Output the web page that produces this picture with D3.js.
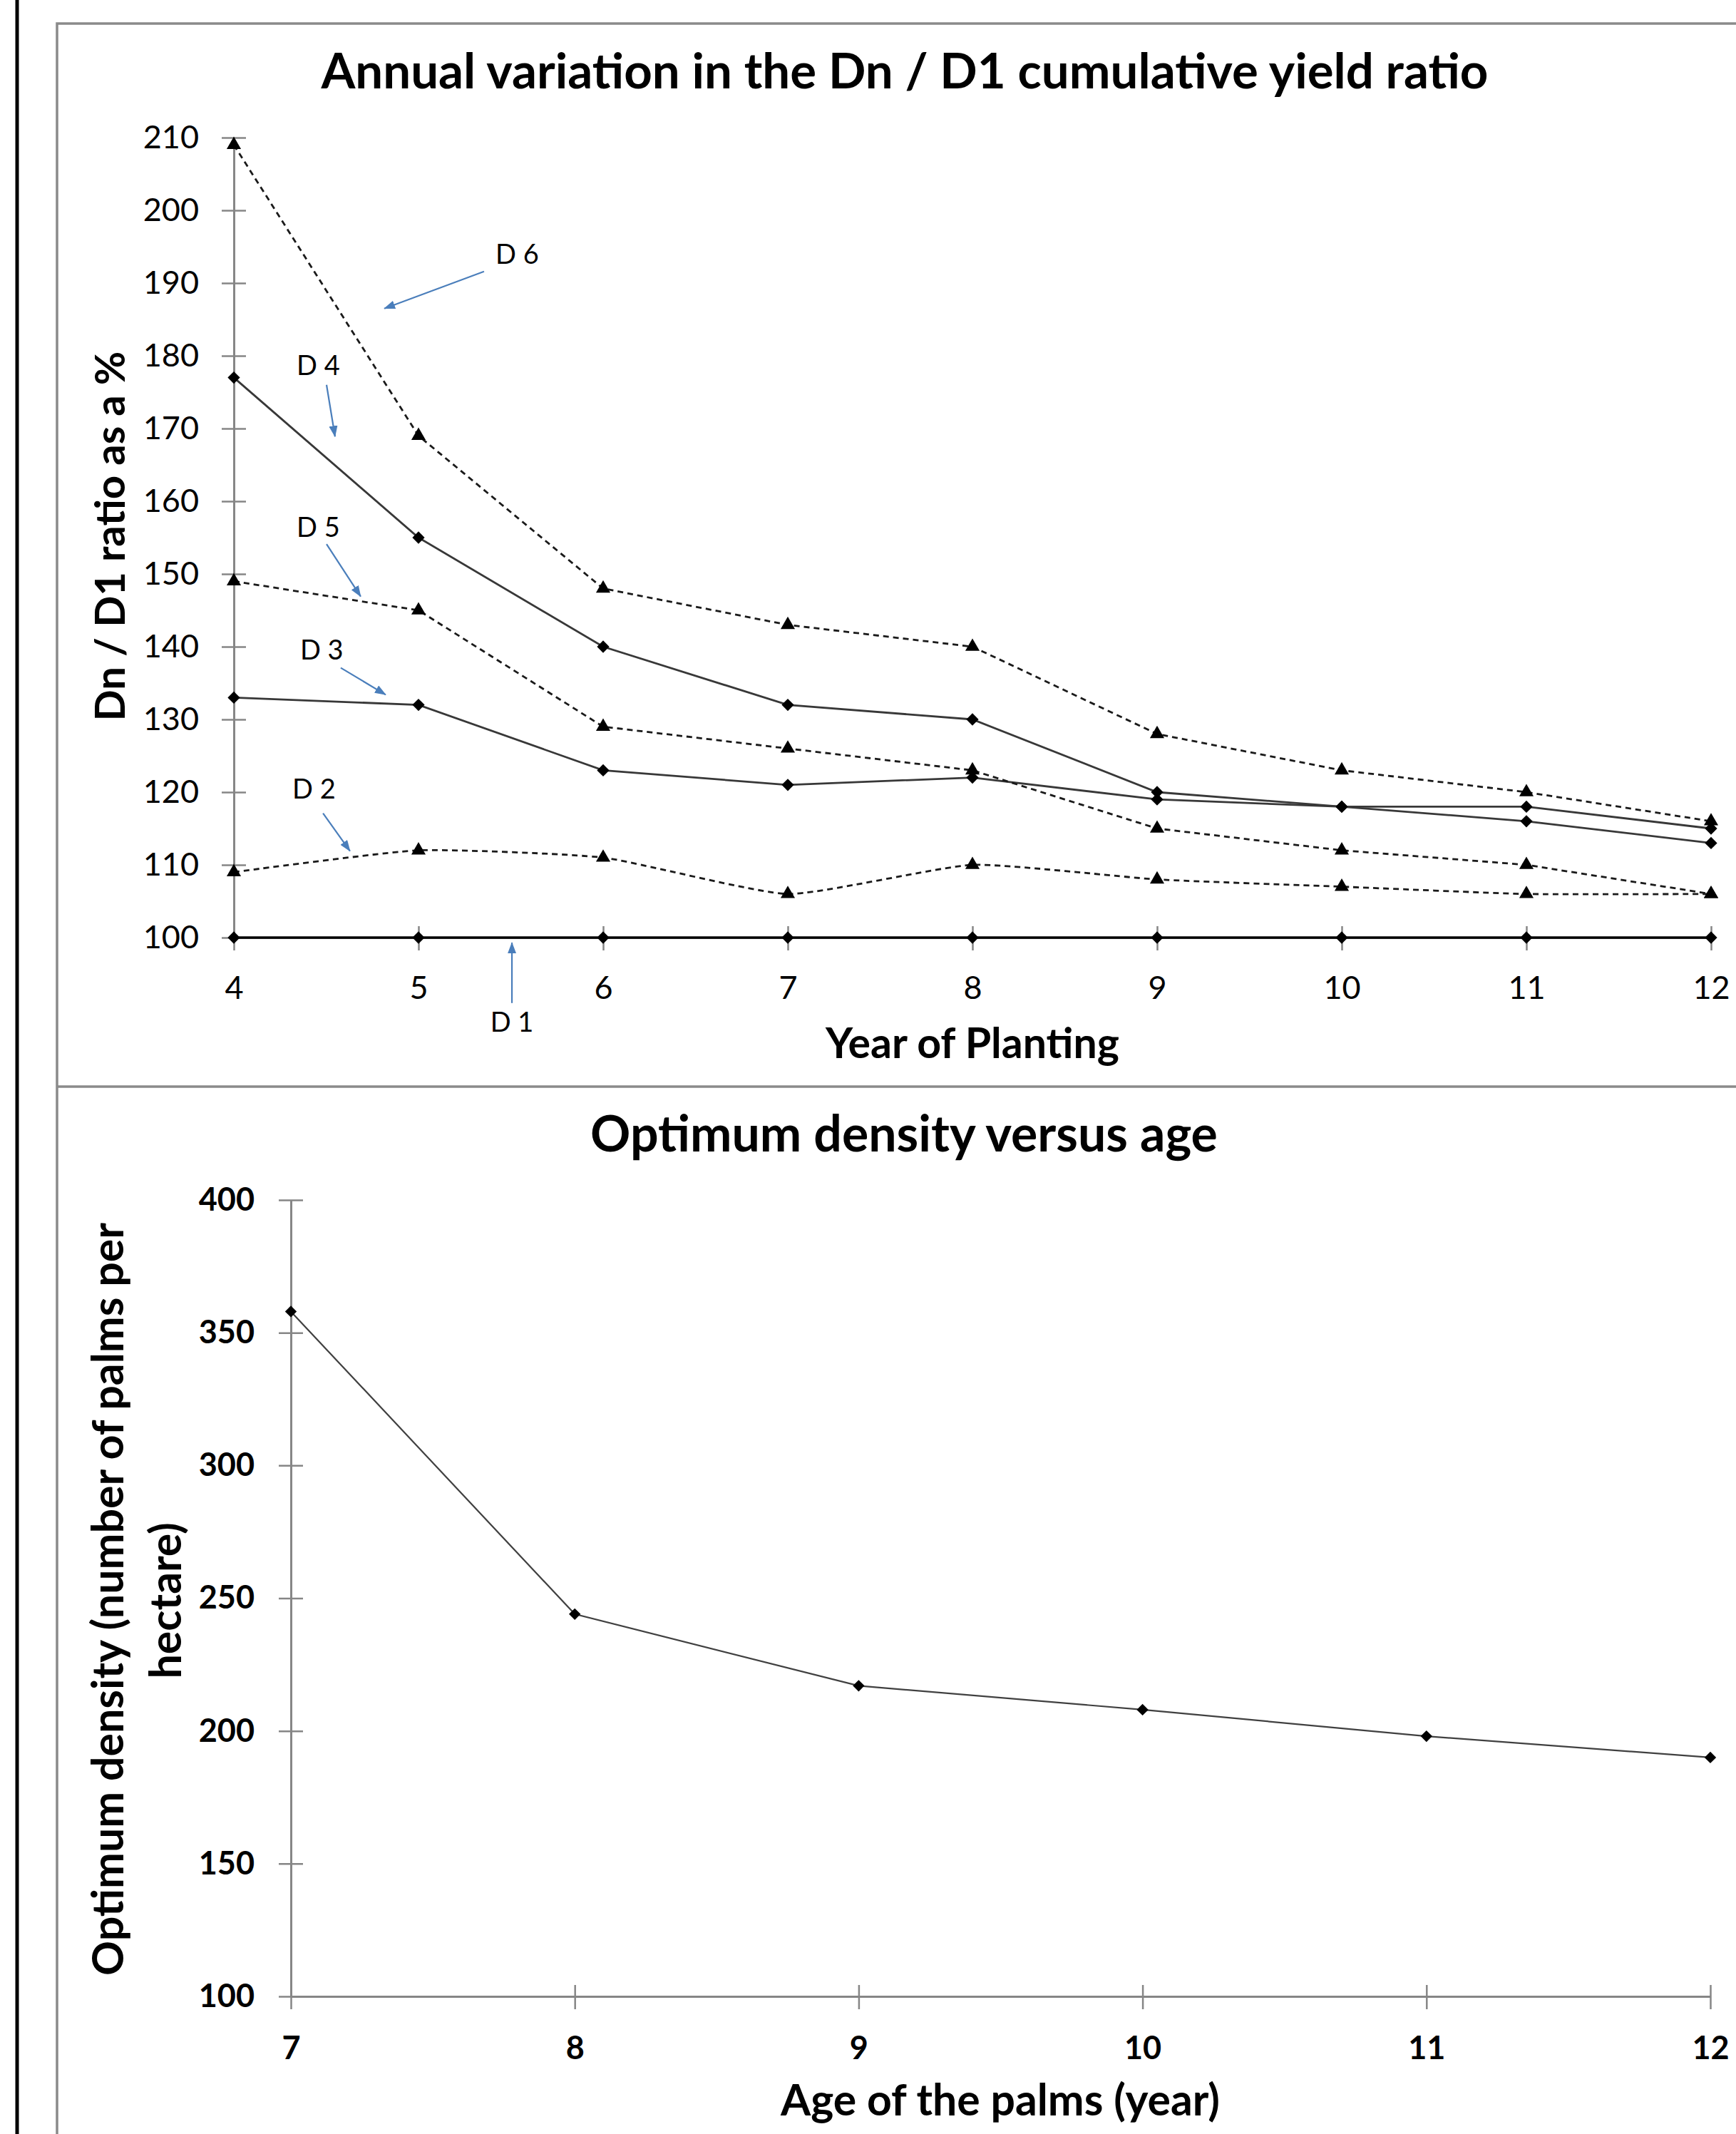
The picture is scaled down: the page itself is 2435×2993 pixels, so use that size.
<!DOCTYPE html>
<html>
<head>
<meta charset="utf-8">
<script src="https://d3js.org/d3.v7.min.js"></script>
<style>
  body { margin: 0; background: #fff; }
  svg { display: block; }
  text { font-family: Lato, "Open Sans", sans-serif; fill: #000; }
</style>
</head>
<body>
<svg id="chart" width="2435" height="2993"></svg>
<script>
// top chart: Dn / D1 ratio (%) by year of planting
var years = [4, 5, 6, 7, 8, 9, 10, 11, 12];
var serD1 = [100, 100, 100, 100, 100, 100, 100, 100, 100];
var serD2 = [109, 112, 111, 106, 110, 108, 107, 106, 106];
var serD3 = [133, 132, 123, 121, 122, 119, 118, 116, 113];
var serD4 = [177, 155, 140, 132, 130, 120, 118, 118, 115];
var serD5 = [149, 145, 129, 126, 123, 115, 112, 110, 106];
var serD6 = [209, 169, 148, 143, 140, 128, 123, 120, 116];
var ratioTicks = [100, 110, 120, 130, 140, 150, 160, 170, 180, 190, 200, 210];

// bottom chart: optimum density by age
var ages = [7, 8, 9, 10, 11, 12];
var density = [358, 244, 217, 208, 198, 190];
var densityTicks = [100, 150, 200, 250, 300, 350, 400];

// series labels with arrows, in data units [labelX, labelY, fromX, fromY, toX, toY]
var seriesNames = ["D 6", "D 4", "D 5", "D 3", "D 2", "D 1"];
var labelSpots = [
  [5.417, 192.6, 5.355, 191.6, 4.815, 186.5],
  [4.340, 177.4, 4.502, 176.0, 4.548, 168.9],
  [4.340, 155.1, 4.502, 154.1, 4.687, 146.9],
  [4.359, 138.2, 4.579, 137.1, 4.822, 133.4],
  [4.317, 119.1, 4.483, 117.1, 4.629, 111.9],
  [5.506, 87.1, 5.506, 91.0, 5.506, 99.3]
];

var svg = d3.select("#chart");
var AXIS = "#868686", BLUE = "#4a7ebb";

// make a text element take a given width
function fit(t, w) {
  var fs = parseFloat(t.attr("font-size"));
  var len = t.node().getComputedTextLength();
  t.attr("font-size", fs * w / len);
  return t;
}

// frame: black rule on the left, grey panel borders
svg.append("line").attr("x1", 24).attr("x2", 24).attr("y1", 0).attr("y2", 2993)
  .attr("stroke", "#000").attr("stroke-width", 5);
svg.append("path").attr("d", "M2435,33H80V2993M80,1524H2435")
  .attr("fill", "none").attr("stroke", "#8a8a8a").attr("stroke-width", 3.5);

svg.append("defs").append("marker")
  .attr("id", "arr").attr("markerUnits", "userSpaceOnUse")
  .attr("viewBox", "0 0 16 12").attr("refX", 15).attr("refY", 6)
  .attr("markerWidth", 16).attr("markerHeight", 12).attr("orient", "auto")
  .append("path").attr("d", "M0,0L16,6L0,12Z").attr("fill", BLUE);

// cross ticks like in excel
function crossTicks(g, vertical) {
  g.select(".domain").attr("stroke", AXIS).attr("stroke-width", 3);
  g.selectAll(".tick line").attr("stroke", AXIS).attr("stroke-width", 2.5)
    .each(function() {
      if (vertical) d3.select(this).attr("x1", -17).attr("x2", 17);
      else d3.select(this).attr("y1", -16).attr("y2", 18);
    });
}

// ---------- top chart ----------
var x1 = d3.scaleLinear().domain([4, 12]).range([328, 2400]);
var y1 = d3.scaleLinear().domain([100, 210]).range([1315, 193]);

var gy1 = svg.append("g").attr("transform", "translate(" + x1(4) + ",0)")
  .call(d3.axisLeft(y1).tickValues(ratioTicks).tickSize(17).tickSizeOuter(0).tickPadding(32));
crossTicks(gy1, true);
gy1.selectAll(".tick text").attr("font-size", 45).attr("font-family", "Lato").attr("fill", "#000");

var gx1 = svg.append("g").attr("transform", "translate(0," + y1(100) + ")")
  .call(d3.axisBottom(x1).tickValues(years).tickSize(17).tickSizeOuter(0).tickFormat(d3.format("d")));
crossTicks(gx1, false);
gx1.selectAll(".tick text").attr("font-size", 45).attr("font-family", "Lato")
  .attr("fill", "#000").attr("y", 86).attr("dy", 0);

var topSeries = [
  { v: serD1, dash: false, sym: d3.symbolDiamond2, w: 3.5, col: "#000" },
  { v: serD2, dash: true, sym: d3.symbolTriangle, smooth: true },
  { v: serD3, dash: false, sym: d3.symbolDiamond2 },
  { v: serD4, dash: false, sym: d3.symbolDiamond2 },
  { v: serD5, dash: true, sym: d3.symbolTriangle },
  { v: serD6, dash: true, sym: d3.symbolTriangle }
];

topSeries.forEach(function(s) {
  var pts = years.map(function(yr, i) { return [yr, s.v[i]]; });
  var line = d3.line().x(function(d) { return x1(d[0]); }).y(function(d) { return y1(d[1]); });
  if (s.smooth) line.curve(d3.curveCardinal.tension(0.5));
  svg.append("path").attr("d", line(pts)).attr("fill", "none")
    .attr("stroke", s.col || (s.dash ? "#1a1a1a" : "#383838"))
    .attr("stroke-width", s.w || 2.8)
    .attr("stroke-dasharray", s.dash ? "8,6" : null);
  svg.selectAll(null).data(pts).enter().append("path")
    .attr("transform", function(d) { return "translate(" + x1(d[0]) + "," + y1(d[1]) + ")"; })
    .attr("d", d3.symbol().type(s.sym).size(s.sym === d3.symbolTriangle ? 175 : 190))
    .attr("fill", "#000");
});

seriesNames.forEach(function(n, i) {
  var p = labelSpots[i];
  svg.append("text").attr("x", x1(p[0])).attr("y", y1(p[1]))
    .attr("font-size", 38).attr("text-anchor", n == "D 1" ? "middle" : "start").text(n);
  svg.append("line").attr("x1", x1(p[2])).attr("y1", y1(p[3]))
    .attr("x2", x1(p[4])).attr("y2", y1(p[5]))
    .attr("stroke", BLUE).attr("stroke-width", 2.2).attr("marker-end", "url(#arr)");
});

fit(svg.append("text").attr("x", 1269).attr("y", 124).attr("text-anchor", "middle")
  .attr("font-size", 64).attr("font-weight", "bold")
  .text("Annual variation in the Dn / D1 cumulative yield ratio"), 1637);
fit(svg.append("text").attr("transform", "translate(175,752) rotate(-90)").attr("text-anchor", "middle")
  .attr("font-size", 56).attr("font-weight", "bold").text("Dn / D1 ratio as a %"), 519);
fit(svg.append("text").attr("x", 1364).attr("y", 1484).attr("text-anchor", "middle")
  .attr("font-size", 54).attr("font-weight", "bold").text("Year of Planting"), 412);

// ---------- bottom chart ----------
var x2 = d3.scaleLinear().domain([7, 12]).range([408, 2399]);
var y2 = d3.scaleLinear().domain([100, 400]).range([2800, 1683]);

var gy2 = svg.append("g").attr("transform", "translate(" + x2(7) + ",0)")
  .call(d3.axisLeft(y2).tickValues(densityTicks).tickSize(17).tickSizeOuter(0).tickPadding(34));
crossTicks(gy2, true);
gy2.selectAll(".tick text").attr("font-size", 45).attr("font-weight", "bold")
  .attr("font-family", "Lato").attr("fill", "#000");

var gx2 = svg.append("g").attr("transform", "translate(0," + y2(100) + ")")
  .call(d3.axisBottom(x2).tickValues(ages).tickSize(17).tickSizeOuter(0).tickFormat(d3.format("d")));
crossTicks(gx2, false);
gx2.selectAll(".tick text").attr("font-size", 45).attr("font-weight", "bold")
  .attr("font-family", "Lato").attr("fill", "#000").attr("y", 88).attr("dy", 0);

var densPts = ages.map(function(a, i) { return [a, density[i]]; });
svg.append("path")
  .attr("d", d3.line().x(function(d) { return x2(d[0]); }).y(function(d) { return y2(d[1]); })(densPts))
  .attr("fill", "none").attr("stroke", "#404040").attr("stroke-width", 2.2);
svg.selectAll(null).data(densPts).enter().append("path")
  .attr("transform", function(d) { return "translate(" + x2(d[0]) + "," + y2(d[1]) + ")"; })
  .attr("d", d3.symbol().type(d3.symbolDiamond2).size(170))
  .attr("fill", "#000");

fit(svg.append("text").attr("x", 1268).attr("y", 1615).attr("text-anchor", "middle")
  .attr("font-size", 58).attr("font-weight", "bold").text("Optimum density versus age"), 880);
var yt = fit(svg.append("text").attr("transform", "translate(173,2243) rotate(-90)").attr("text-anchor", "middle")
  .attr("font-size", 56).attr("font-weight", "bold").text("Optimum density (number of palms per"), 1056);
svg.append("text").attr("transform", "translate(254,2245) rotate(-90)").attr("text-anchor", "middle")
  .attr("font-size", yt.attr("font-size")).attr("font-weight", "bold").text("hectare)");
fit(svg.append("text").attr("x", 1403).attr("y", 2967).attr("text-anchor", "middle")
  .attr("font-size", 54).attr("font-weight", "bold").text("Age of the palms (year)"), 616);
</script>
</body>
</html>
